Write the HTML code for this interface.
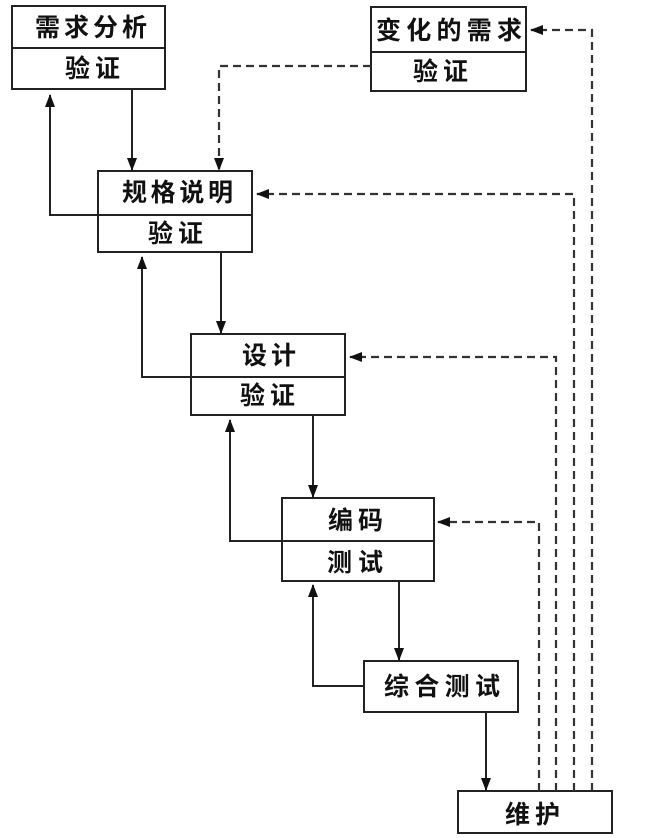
<!DOCTYPE html>
<html>
<head>
<meta charset="utf-8">
<style>
  html,body{margin:0;padding:0;background:#fff;}
  svg{display:block;}
  text{font-family:"Liberation Sans","Noto Sans CJK SC","WenQuanYi Zen Hei",sans-serif;font-weight:bold;font-size:25px;fill:#111;}
</style>
</head>
<body>
<svg width="647" height="838" viewBox="0 0 647 838" xmlns="http://www.w3.org/2000/svg">
  <defs>
    <marker id="ah" viewBox="0 0 13 10" refX="12" refY="5" markerWidth="13" markerHeight="10" markerUnits="userSpaceOnUse" orient="auto">
      <path d="M0,0 L13,5 L0,10 Z" fill="#111"/>
    </marker>
  </defs>

  <g fill="none" stroke="#222" stroke-width="2">
    <rect x="12" y="6" width="153" height="83"/>
    <line x1="12" y1="48" x2="165" y2="48"/>

    <rect x="371" y="7" width="155" height="84"/>
    <line x1="371" y1="52" x2="526" y2="52"/>

    <rect x="98" y="171" width="154" height="81"/>
    <line x1="98" y1="215" x2="252" y2="215"/>

    <rect x="191" y="334" width="154" height="81"/>
    <line x1="191" y1="377" x2="345" y2="377"/>

    <rect x="282" y="498" width="152" height="83"/>
    <line x1="282" y1="541" x2="434" y2="541"/>

    <rect x="364" y="661" width="154" height="51"/>

    <rect x="458" y="791" width="154" height="42"/>
  </g>

  <g fill="none" stroke="#222" stroke-width="2">
    <line x1="132" y1="89" x2="132" y2="170" marker-end="url(#ah)"/>
    <polyline points="98,215 50,215 50,95" marker-end="url(#ah)"/>

    <line x1="221" y1="252" x2="221" y2="333" marker-end="url(#ah)"/>
    <polyline points="191,377 142,377 142,257" marker-end="url(#ah)"/>

    <line x1="313" y1="415" x2="313" y2="497" marker-end="url(#ah)"/>
    <polyline points="282,541 230,541 230,420" marker-end="url(#ah)"/>

    <line x1="399" y1="581" x2="399" y2="660" marker-end="url(#ah)"/>
    <polyline points="364,686 313,686 313,585" marker-end="url(#ah)"/>

    <line x1="486" y1="712" x2="486" y2="790" marker-end="url(#ah)"/>
  </g>

  <g fill="none" stroke="#333" stroke-width="2.2" stroke-dasharray="8,5">
    <polyline points="371,66 219,66 219,170" marker-end="url(#ah)"/>
    <polyline points="592,791 592,30 531,30" marker-end="url(#ah)"/>
    <polyline points="574,791 574,194 257,194" marker-end="url(#ah)"/>
    <polyline points="556,791 556,357 350,357" marker-end="url(#ah)"/>
    <polyline points="539,791 539,522 438,522" marker-end="url(#ah)"/>
  </g>

  <g dominant-baseline="central">
    <text x="35" y="28" textLength="112" lengthAdjust="spacing">需求分析</text>
    <text x="65" y="69" textLength="55" lengthAdjust="spacing">验证</text>

    <text x="376" y="31" textLength="146" lengthAdjust="spacing">变化的需求</text>
    <text x="413" y="72" textLength="55" lengthAdjust="spacing">验证</text>

    <text x="122" y="193" textLength="111" lengthAdjust="spacing">规格说明</text>
    <text x="148" y="234" textLength="55" lengthAdjust="spacing">验证</text>

    <text x="242" y="356" textLength="54" lengthAdjust="spacing">设计</text>
    <text x="240" y="396" textLength="55" lengthAdjust="spacing">验证</text>

    <text x="328" y="521" textLength="55" lengthAdjust="spacing">编码</text>
    <text x="327" y="563" textLength="56" lengthAdjust="spacing">测试</text>

    <text x="384" y="687" textLength="116" lengthAdjust="spacing">综合测试</text>

    <text x="505" y="815" textLength="55" lengthAdjust="spacing">维护</text>
  </g>
</svg>
</body>
</html>
